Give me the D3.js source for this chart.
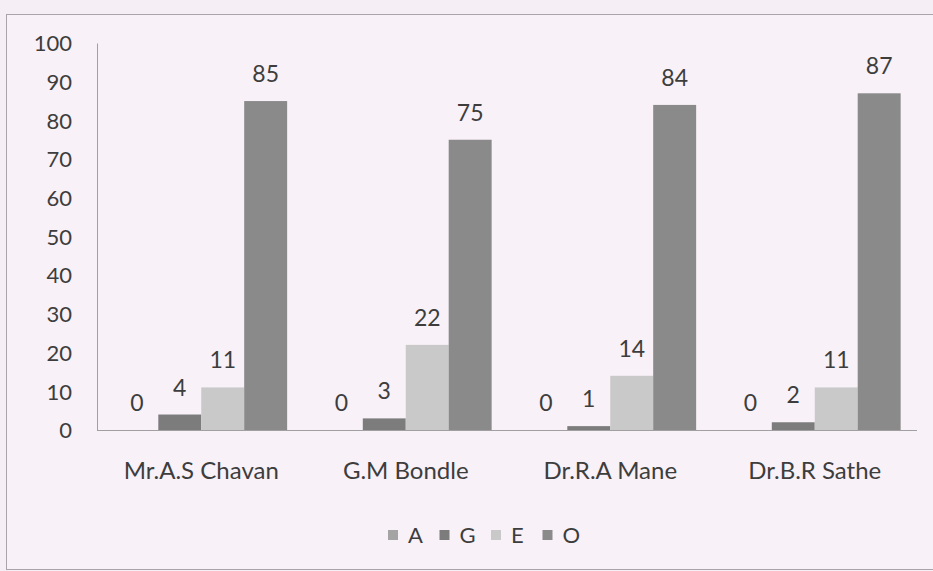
<!DOCTYPE html>
<meta charset="utf-8">
<style>
body { margin: 0; background: #f6eef5; }
svg text { font-family: Lato, "Open Sans", sans-serif; fill: #3d3d3d; }
</style>
<body>
<svg width="933" height="571"></svg>
<script src="https://cdn.jsdelivr.net/npm/d3@7"></script>
<script>

// data
var teachers = ["Mr.A.S Chavan", "G.M Bondle", "Dr.R.A Mane", "Dr.B.R Sathe"];
var grades = ["A", "G", "E", "O"];
var valA = [0, 0, 0, 0];
var valG = [4, 3, 1, 2];
var valE = [11, 22, 14, 11];
var valO = [85, 75, 84, 87];
var yTicks = [0, 10, 20, 30, 40, 50, 60, 70, 80, 90, 100];

var series = { A: valA, G: valG, E: valE, O: valO };
var colors = { A: "#a4a4a4", G: "#7c7c7c", E: "#c9c9c9", O: "#8a8a8a" };

var svg = d3.select("svg");

// chart frame
svg.append("rect")
  .attr("x", 6.5).attr("y", 14.5)
  .attr("width", 940).attr("height", 555)
  .attr("fill", "#f8f1f7")
  .attr("stroke", "#a8a4a8")
  .attr("stroke-width", 1);

var x = d3.scaleBand()
  .domain(teachers)
  .range([99, 917])
  .paddingInner(0.16)
  .paddingOuter(0.08);

var xs = d3.scaleBand()
  .domain(grades)
  .range([0, x.bandwidth()]);

var y = d3.scaleLinear()
  .domain([0, 100])
  .range([430, 43]);

// y axis
var yAxis = d3.axisLeft(y).tickValues(yTicks).tickSize(0).tickPadding(25);
var gy = svg.append("g").attr("transform", "translate(97,0)").call(yAxis);
gy.select(".domain").attr("stroke", "#a0a0a0");
gy.selectAll("text").style("font-size", "22px").attr("dy", "0.35em");

// baseline
svg.append("line")
  .attr("x1", 97).attr("x2", 917)
  .attr("y1", y(0) + 0.5).attr("y2", y(0) + 0.5)
  .attr("stroke", "#a0a0a0");

// bars
var groups = svg.selectAll(".grp")
  .data(teachers)
  .enter().append("g")
  .attr("class", "grp")
  .attr("transform", function(d){ return "translate(" + x(d) + ",0)"; });

grades.forEach(function(g){
  groups.append("rect")
    .attr("x", xs(g))
    .attr("width", xs.bandwidth())
    .attr("y", function(d, i){ return y(series[g][i]); })
    .attr("height", function(d, i){ return y(0) - y(series[g][i]); })
    .attr("fill", colors[g]);

  groups.append("text")
    .attr("x", xs(g) + xs.bandwidth() / 2)
    .attr("y", function(d, i){ return y(series[g][i]) - 19; })
    .attr("text-anchor", "middle")
    .style("font-size", "23px")
    .text(function(d, i){ return series[g][i]; });
});

// category labels
svg.selectAll(".cat")
  .data(teachers)
  .enter().append("text")
  .attr("class", "cat")
  .attr("x", function(d){ return x(d) + x.bandwidth() / 2; })
  .attr("y", 479)
  .attr("text-anchor", "middle")
  .style("font-size", "24px")
  .text(function(d){ return d; });

// legend
var legend = svg.selectAll(".leg")
  .data(grades)
  .enter().append("g")
  .attr("class", "leg")
  .attr("transform", function(d, i){ return "translate(" + (388 + i * 51.5) + ",535)"; });

legend.append("rect")
  .attr("x", 0).attr("y", -5)
  .attr("width", 10).attr("height", 10)
  .attr("fill", function(d){ return colors[d]; });

legend.append("text")
  .attr("x", 20).attr("y", 0)
  .attr("dy", "0.35em")
  .style("font-size", "22px")
  .text(function(d){ return d; });

</script>
</body>
